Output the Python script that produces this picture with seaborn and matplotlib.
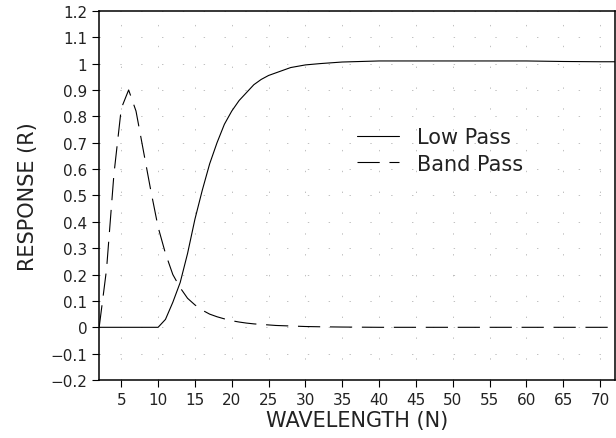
import matplotlib
matplotlib.use("Agg")
import matplotlib.pyplot as plt
import matplotlib.ticker as mticker
import seaborn as sns
import pandas as pd
import numpy as np

# wavelength samples (N) and filter responses
wavelength = [2, 3, 4, 5, 6, 7, 8, 9, 10, 11, 12, 13, 14, 15, 16, 17, 18, 19, 20,
              21, 22, 23, 24, 25, 26, 27, 28, 30, 32, 35, 40, 45, 50, 55, 60, 65,
              70, 72]
low_pass = [0, 0, 0, 0, 0, 0, 0, 0, 0, 0.03, 0.095, 0.17, 0.28, 0.41, 0.52, 0.62,
            0.70, 0.77, 0.82, 0.86, 0.89, 0.92, 0.94, 0.955, 0.965, 0.975, 0.985,
            0.995, 1.0, 1.006, 1.01, 1.01, 1.01, 1.01, 1.01, 1.008, 1.007, 1.007]
band_pass = [0, 0.22, 0.58, 0.83, 0.90, 0.82, 0.67, 0.52, 0.38, 0.28, 0.20, 0.15,
             0.11, 0.085, 0.065, 0.05, 0.04, 0.032, 0.025, 0.02, 0.016, 0.013,
             0.011, 0.009, 0.007, 0.006, 0.005, 0.003, 0.002, 0.001, 0, 0, 0, 0,
             0, 0, 0, 0]
series_names = ["Low Pass", "Band Pass"]

x_ticks = list(range(5, 75, 5))
y_ticks = [round(v, 1) for v in np.arange(-0.2, 1.21, 0.1)]

df = pd.DataFrame({
    "N": wavelength * 2,
    "R": low_pass + band_pass,
    "Filter": [series_names[0]] * len(wavelength) + [series_names[1]] * len(wavelength),
})

sns.set_style("ticks")
plt.rcParams["font.family"] = ["DejaVu Sans"]
plt.rcParams["lines.scale_dashes"] = False

fig, ax = plt.subplots(figsize=(6.16, 4.39), dpi=100)
fig.subplots_adjust(left=0.161, right=0.998, top=0.973, bottom=0.132)

sns.lineplot(data=df, x="N", y="R", style="Filter", style_order=series_names,
             dashes={"Low Pass": "", "Band Pass": (16, 7)},
             color="black", linewidth=0.8, ax=ax)

ax.set_xlim(2, 72)
ax.set_ylim(-0.2, 1.2)
ax.set_xticks(x_ticks)
ax.set_yticks(y_ticks)
ax.yaxis.set_major_formatter(
    mticker.FuncFormatter(lambda v, p: ("%g" % round(v, 1)).replace("-", "\u2212")))
ax.tick_params(labelsize=11, length=5, width=0.8, direction="out", color="black",
               labelcolor="#222222")

# sparse dotted grid like the original
ax.grid(True, color="#b5b5b5", linestyle=(0, (1, 14)), linewidth=0.6)
for s in ax.spines.values():
    s.set_visible(True)
    s.set_color("black")
    s.set_linewidth(1.1)

ax.set_xlabel("WAVELENGTH (N)", fontsize=15, labelpad=2, color="#222222")
ax.set_ylabel("RESPONSE (R)", fontsize=15, labelpad=9, color="#222222")

handles, labels = ax.get_legend_handles_labels()
keep = [(h, l) for h, l in zip(handles, labels) if l in series_names]
leg = ax.legend([h for h, l in keep], [l for h, l in keep], frameon=False,
                loc="center left", bbox_to_anchor=(0.5, 0.622), fontsize=15,
                borderpad=0, borderaxespad=0, handlelength=2.0,
                handletextpad=0.9, labelspacing=0.3)
for t in leg.get_texts():
    t.set_color("#222222")

fig.savefig("out.png", dpi=100)
